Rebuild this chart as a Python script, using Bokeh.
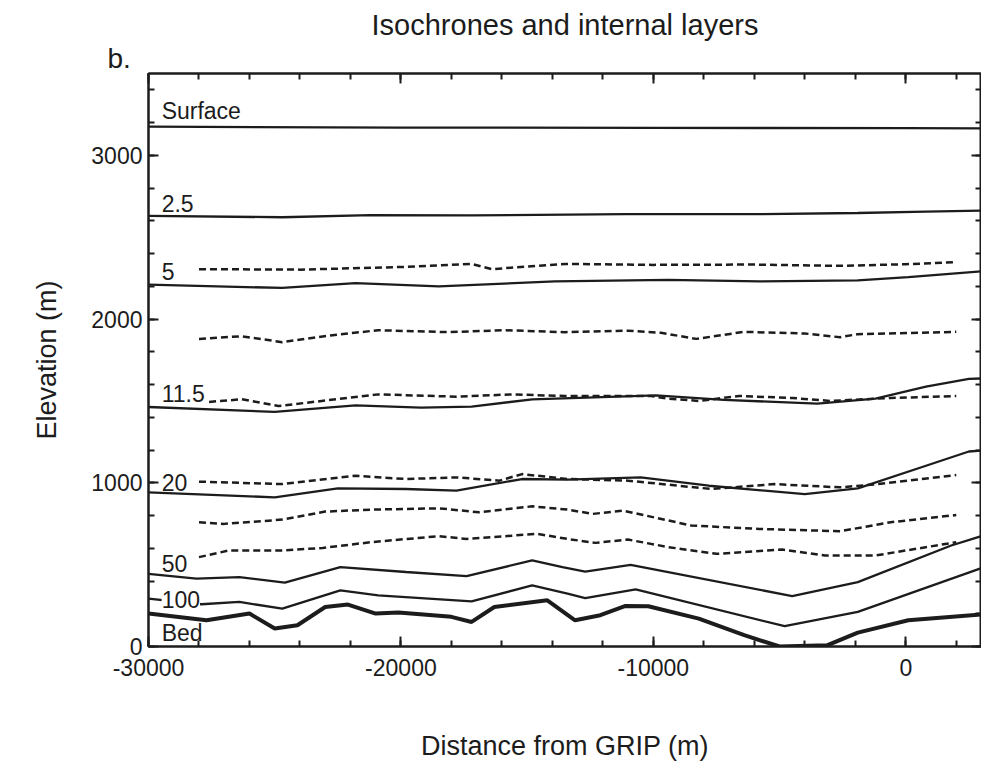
from bokeh.plotting import figure
from bokeh.models import (LinearAxis, SingleIntervalTicker, Label, Range1d,
                          CustomJSTickFormatter, Title)
from bokeh.embed import file_html
from bokeh.resources import INLINE

# ---------------- data (distance from GRIP in m, elevation in m) ----------------
surface_x = [-30000, -20000, -10000, 0, 3000]
surface_y = [3175, 3170, 3168, 3166, 3165]

iso25_x = [-30000, -24700, -21200, -17200, -11100, -5800, -1900, 800, 3000]
iso25_y = [2630, 2622, 2635, 2633, 2641, 2641, 2648, 2656, 2662]

iso5_x = [-30000, -24700, -21800, -18500, -13900, -9400, -5800, -1900, 100, 3000]
iso5_y = [2210, 2190, 2220, 2200, 2230, 2240, 2230, 2236, 2256, 2291]

layerA_x = [-28000, -24000, -20000, -17200, -16400, -13500, -10000, -6000, -2600, 0, 2000]
layerA_y = [2305, 2302, 2318, 2337, 2305, 2337, 2331, 2333, 2325, 2335, 2348]

layerB_x = [-28000, -26300, -24700, -22800, -20900, -18100, -15900, -13500, -11000,
            -9700, -8300, -6400, -4000, -2600, -1900, 2000]
layerB_y = [1879, 1895, 1859, 1900, 1932, 1920, 1932, 1920, 1929,
            1916, 1879, 1922, 1912, 1889, 1908, 1922]

iso115_x = [-30000, -25000, -21800, -19200, -17200, -14800, -9900, -7200, -3500,
            -1200, 800, 2500, 3000]
iso115_y = [1463, 1433, 1473, 1459, 1465, 1510, 1534, 1506, 1484,
            1514, 1587, 1635, 1637]

layer115_x = [-27600, -26300, -24850, -20900, -17800, -15600, -13500, -10100, -9400,
              -8200, -6600, -4500, -3000, -600, 2000]
layer115_y = [1494, 1510, 1469, 1540, 1526, 1540, 1530, 1530, 1514,
              1500, 1530, 1518, 1500, 1518, 1530]

iso20_x = [-30000, -25000, -22500, -19800, -17800, -15200, -13400, -10500, -7800,
           -4000, -1900, 800, 2500, 3000]
iso20_y = [942, 911, 966, 962, 952, 1023, 1019, 1033, 982,
           931, 966, 1104, 1191, 1197]

layer20_x = [-28000, -24700, -21800, -19800, -17800, -16100, -15200, -13400, -11000,
             -7700, -5200, -2600, -1100, 2000]
layer20_y = [1007, 992, 1043, 1023, 1033, 1013, 1053, 1023, 1013,
             962, 992, 972, 992, 1047]

layerC_x = [-28000, -27000, -24700, -23000, -21200, -18500, -16900, -14800, -13400,
            -12400, -11200, -8500, -5800, -2600, -600, 2000]
layerC_y = [759, 749, 775, 824, 836, 844, 820, 856, 836,
            810, 830, 739, 718, 704, 759, 803]

layerD_x = [-28000, -26800, -24700, -23100, -21200, -18500, -17400, -14600, -13400,
            -12300, -11000, -9400, -7500, -4900, -3200, -1200, 2000]
layerD_y = [546, 587, 587, 602, 637, 674, 657, 688, 657,
            633, 653, 607, 566, 592, 556, 556, 637]

iso50_x = [-30000, -28100, -26400, -24600, -22400, -19800, -17400, -14800, -13600,
           -12700, -10900, -4500, -1900, 1800, 3000]
iso50_y = [444, 414, 424, 390, 485, 455, 430, 526, 485,
           458, 499, 308, 393, 617, 674]

iso100_x = [-30000, -27900, -26400, -24700, -22400, -20900, -17200, -14800, -13400,
            -12700, -10700, -4800, -1900, 3000]
iso100_y = [292, 258, 272, 231, 343, 312, 276, 373, 323,
            296, 349, 124, 211, 479]

bed_x = [-30000, -27700, -26000, -25000, -24100, -23000, -22100, -21000, -20100,
         -18000, -17200, -16300, -14200, -13100, -12100, -11100, -10200, -8200,
         -6400, -5000, -3100, -1900, 100, 3000]
bed_y = [201, 160, 201, 110, 130, 241, 256, 201, 207,
         181, 150, 241, 282, 160, 191, 248, 246, 170,
         69, 0, 8, 85, 160, 195]

layer_names = ["Surface", "2.5", "5", "11.5", "20", "50", "100", "Bed"]

FONT = "Liberation Sans"
INK = "#1c1c1c"

p = figure(width=981, height=763,
           x_range=Range1d(-30000, 3000), y_range=Range1d(0, 3500),
           output_backend="svg", toolbar_location=None,
           min_border_left=148, min_border_right=0,
           min_border_top=73, min_border_bottom=115,
           background_fill_color="white", border_fill_color="white")

p.xgrid.visible = False
p.ygrid.visible = False
p.outline_line_color = INK
p.outline_line_width = 2

p.xaxis.ticker = SingleIntervalTicker(interval=10000, num_minor_ticks=5)
p.yaxis.ticker = SingleIntervalTicker(interval=1000, num_minor_ticks=5)
plain = CustomJSTickFormatter(code="return String(tick)")
p.xaxis.formatter = plain
p.yaxis.formatter = plain

def style_axis(ax):
    ax.axis_line_color = INK
    ax.axis_line_width = 2
    ax.major_tick_line_color = INK
    ax.minor_tick_line_color = INK
    ax.major_tick_line_width = 2
    ax.minor_tick_line_width = 2
    ax.major_tick_in = 10
    ax.major_tick_out = 0
    ax.minor_tick_in = 6
    ax.minor_tick_out = 0
    ax.major_label_text_font = FONT
    ax.major_label_text_font_size = "23px"
    ax.major_label_text_color = INK
    ax.axis_label_text_font = FONT
    ax.axis_label_text_font_size = "27px"
    ax.axis_label_text_font_style = "normal"
    ax.axis_label_text_color = INK

for ax in p.xaxis + p.yaxis:
    style_axis(ax)

p.xaxis.axis_label = "Distance from GRIP (m)"
p.xaxis.major_label_standoff = 12
p.xaxis.axis_label_standoff = 52
p.yaxis.axis_label = "Elevation (m)"
p.yaxis.major_label_standoff = 6
p.yaxis.axis_label_standoff = 26

blank = CustomJSTickFormatter(code="return ''")
top_ax = LinearAxis(ticker=SingleIntervalTicker(interval=10000, num_minor_ticks=5),
                    formatter=blank)
right_ax = LinearAxis(ticker=SingleIntervalTicker(interval=1000, num_minor_ticks=5),
                      formatter=blank)
for ax in (top_ax, right_ax):
    style_axis(ax)
    ax.major_label_standoff = 0
    ax.major_label_text_font_size = "1px"
p.add_layout(top_ax, "above")
p.add_layout(right_ax, "right")

# panel letter (row just above the frame) and main title (outermost)
p.add_layout(Title(text="b.", align="left", offset=-41, standoff=0, text_font=FONT,
                   text_font_size="28px", text_font_style="normal",
                   text_color=INK), "above")
p.title.text = "Isochrones and internal layers"
p.title.align = "center"
p.title.standoff = 0
p.title.text_font = FONT
p.title.text_font_size = "29px"
p.title.text_font_style = "normal"
p.title.text_color = INK

solid = dict(line_color=INK, line_width=2.3)
dashed = dict(line_color=INK, line_width=2.5, line_dash="7 4")

p.line(surface_x, surface_y, **solid)
p.line(iso25_x, iso25_y, **solid)
p.line(iso5_x, iso5_y, **solid)
p.line(iso115_x, iso115_y, **solid)
p.line(iso20_x, iso20_y, **solid)
p.line(iso50_x, iso50_y, **solid)
p.line(iso100_x, iso100_y, **solid)
p.line(bed_x, bed_y, line_color=INK, line_width=4)

for xs, ys in [(layerA_x, layerA_y), (layerB_x, layerB_y), (layer115_x, layer115_y),
               (layer20_x, layer20_y), (layerC_x, layerC_y), (layerD_x, layerD_y)]:
    p.line(xs, ys, **dashed)

# in-plot line labels
label_x = -29480
label_y = [3270, 2707, 2291, 1543, 1002, 508, 290, 82]
for name, ly in zip(layer_names, label_y):
    lab = Label(x=label_x, y=ly, text=name, text_font=FONT, text_font_size="23px",
                text_color=INK, text_baseline="middle", text_align="left")
    if name == "100":
        lab.background_fill_color = "white"
    p.add_layout(lab)

open("out.html", "w").write(file_html(p, INLINE))
